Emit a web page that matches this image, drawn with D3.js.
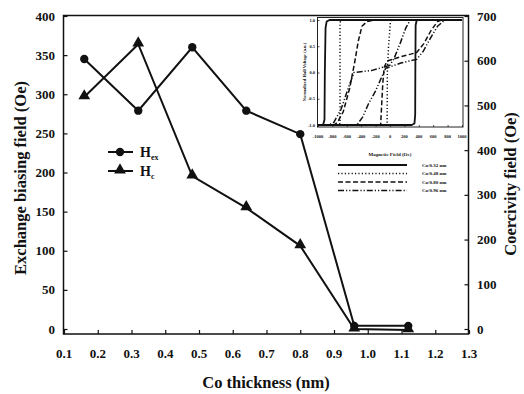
<!DOCTYPE html>
<html>
<head>
<meta charset="utf-8">
<script src="https://cdn.jsdelivr.net/npm/d3@7"></script>
<style>
  body { margin: 0; background: #fff; }
  svg { display: block; }
</style>
</head>
<body>
<svg id="chart" width="524" height="394" font-family="'Liberation Serif', 'Times New Roman', Times, serif" font-weight="bold"></svg>
<script>
// main series
const thickness = [0.16, 0.32, 0.48, 0.64, 0.80, 0.96, 1.12]
const hex = [345, 279, 360, 279, 249, 4, 4]
const hc = [519, 637, 342, 271, 186, 0, -2]
const xTicks = [0.1, 0.2, 0.3, 0.4, 0.5, 0.6, 0.7, 0.8, 0.9, 1.0, 1.1, 1.2, 1.3]
const leftTicks = [0, 50, 100, 150, 200, 250, 300, 350, 400]
const rightTicks = [0, 100, 200, 300, 400, 500, 600, 700]

// inset: hysteresis loops, [field (Oe), normalized voltage]
const insetLabels = ["Co/0.32 nm", "Co/0.48 nm", "Co/0.80 nm", "Co/0.96 nm"]
const loop032 = [
  [[-1000, -1], [300, -1], [340, -0.97], [350, -0.8], [352, 0], [356, 0.9], [370, 0.99], [400, 1], [1000, 1]],
  [[1000, 1], [-840, 1], [-880, 0.97], [-895, 0.85], [-905, 0], [-910, -0.9], [-930, -1], [-1000, -1]]
]
const loop048 = [
  [[-1000, -1], [-40, -1], [-37, 0], [-20, 0.5], [5, 0.95], [30, 1], [1000, 1]],
  [[1000, 1], [-680, 1], [-694, 0.95], [-694, -0.95], [-700, -1], [-1000, -1]]
]
const loop080 = [
  [[-1000, -1], [-130, -1], [-115, -0.6], [-100, -0.2], [-80, 0.1], [-40, 0.22], [150, 0.3], [370, 0.38], [470, 0.55], [570, 0.8], [660, 0.97], [720, 1], [1000, 1]],
  [[1000, 1], [-220, 1], [-320, 0.97], [-390, 0.88], [-440, 0.6], [-490, 0.2], [-560, -0.3], [-650, -0.75], [-730, -0.95], [-780, -1], [-1000, -1]]
]
const loop096 = [
  [[-1000, -1], [-460, -1], [-380, -0.85], [-300, -0.6], [-200, -0.35], [-120, -0.1], [-60, 0.08], [150, 0.18], [370, 0.25], [460, 0.4], [560, 0.65], [660, 0.88], [760, 1], [1000, 1]],
  [[1000, 1], [280, 1], [220, 0.85], [140, 0.55], [60, 0.28], [0, 0.14], [-250, 0.04], [-500, 0], [-580, -0.3], [-680, -0.7], [-780, -0.95], [-850, -1], [-1000, -1]]
]
const insetXTicks = [-1000, -800, -600, -400, -200, 0, 200, 400, 600, 800, 1000]
const insetYTicks = [-1.0, -0.5, 0.0, 0.5, 1.0]

const svg = d3.select("#chart")

const x = d3.scaleLinear().domain([0.1, 1.3]).range([64, 469])
const yL = d3.scaleLinear().domain([0, 400]).range([329, 16])
const yR = d3.scaleLinear().domain([0, 700]).range([329, 16])

// frame
svg.append("rect")
  .attr("x", 63.5).attr("y", 15.5)
  .attr("width", 405).attr("height", 318.5)
  .attr("fill", "none").attr("stroke", "#111").attr("stroke-width", 1.5)

// axes, ticks pointing inward; labels drawn separately
const fmt1 = d3.format(".1f")
const bottom = svg.append("g").attr("transform", "translate(0,334)")
  .call(d3.axisTop(x).tickValues(xTicks).tickSize(4).tickFormat(""))
bottom.select(".domain").remove()
const left = svg.append("g").attr("transform", "translate(63.5,0)")
  .call(d3.axisRight(yL).tickValues(leftTicks).tickSize(4).tickFormat(""))
left.select(".domain").remove()
const right = svg.append("g").attr("transform", "translate(468.5,0)")
  .call(d3.axisLeft(yR).tickValues(rightTicks).tickSize(4).tickFormat(""))
right.select(".domain").remove()
svg.selectAll(".tick line").attr("stroke", "#111").attr("stroke-width", 1.2)
svg.selectAll(".tick text").remove()

const labels = svg.append("g").attr("fill", "#111").attr("font-size", 13)
labels.append("g").selectAll("text").data(xTicks).join("text")
  .attr("x", d => x(d)).attr("y", 358)
  .attr("text-anchor", "middle")
  .text(d => fmt1(d))
labels.append("g").selectAll("text").data(leftTicks).join("text")
  .attr("x", 55).attr("y", d => yL(d) + 4.5)
  .attr("text-anchor", "end")
  .text(d => d)
labels.append("g").selectAll("text").data(rightTicks).join("text")
  .attr("x", 477).attr("y", d => yR(d) + 4.5)
  .attr("text-anchor", "start")
  .text(d => d)

// axis titles
const titles = svg.append("g").attr("fill", "#111").attr("font-size", 16.5)
titles.append("text").attr("x", 266).attr("y", 388)
  .attr("text-anchor", "middle")
  .text("Co thickness (nm)")
titles.append("text").attr("transform", "translate(26,178) rotate(-90)")
  .attr("text-anchor", "middle")
  .text("Exchange biasing field (Oe)")
titles.append("text").attr("transform", "translate(516,184) rotate(-90)")
  .attr("text-anchor", "middle")
  .text("Coercivity field (Oe)")

// series lines
const hexPts = thickness.map((t, i) => [x(t), yL(hex[i])])
const hcPts = thickness.map((t, i) => [x(t), yR(hc[i])])
const line = d3.line()
svg.append("path").attr("d", line(hexPts))
  .attr("fill", "none").attr("stroke", "#111").attr("stroke-width", 2)
svg.append("path").attr("d", line(hcPts))
  .attr("fill", "none").attr("stroke", "#111").attr("stroke-width", 2)

const circle = d3.symbol().type(d3.symbolCircle).size(55)
const tri = d3.symbol().type(d3.symbolTriangle).size(60)
svg.append("g").selectAll("path").data(hexPts).join("path")
  .attr("d", circle).attr("transform", d => `translate(${d[0]},${d[1]})`).attr("fill", "#111")
svg.append("g").selectAll("path").data(hcPts).join("path")
  .attr("d", tri).attr("transform", d => `translate(${d[0]},${d[1] - 1})`).attr("fill", "#111")

// legend
const lg = svg.append("g").attr("fill", "#111")
lg.append("line").attr("x1", 108).attr("x2", 133).attr("y1", 152).attr("y2", 152)
  .attr("stroke", "#111").attr("stroke-width", 2)
lg.append("path").attr("d", circle).attr("transform", "translate(120,152)")
lg.append("line").attr("x1", 108).attr("x2", 133).attr("y1", 171).attr("y2", 171)
  .attr("stroke", "#111").attr("stroke-width", 2)
lg.append("path").attr("d", tri).attr("transform", "translate(120,170)")
const t1 = lg.append("text").attr("x", 140).attr("y", 157).attr("font-size", 14)
t1.append("tspan").text("H")
t1.append("tspan").attr("font-size", 8).attr("dy", 3).text("ex")
const t2 = lg.append("text").attr("x", 140).attr("y", 176).attr("font-size", 14)
t2.append("tspan").text("H")
t2.append("tspan").attr("font-size", 8).attr("dy", 3).text("c")

// inset
const ix = d3.scaleLinear().domain([-1000, 1000]).range([318, 462])
const iy = d3.scaleLinear().domain([-1, 1]).range([125, 20])
const inset = svg.append("g")
inset.append("rect").attr("x", 317.5).attr("y", 17.5).attr("width", 145.5).attr("height", 109.5)
  .attr("fill", "#fff").attr("stroke", "#222").attr("stroke-width", 1)

const ib = inset.append("g").attr("transform", "translate(0,127)")
  .call(d3.axisTop(ix).tickValues(insetXTicks).tickSize(2).tickFormat(""))
ib.select(".domain").remove()
const il = inset.append("g").attr("transform", "translate(317.5,0)")
  .call(d3.axisRight(iy).tickValues(insetYTicks).tickSize(2).tickFormat(""))
il.select(".domain").remove()
inset.selectAll(".tick line").attr("stroke", "#222").attr("stroke-width", 0.8)
inset.selectAll(".tick text").remove()

const ilab = inset.append("g").attr("fill", "#111").attr("font-size", 4.5)
ilab.append("g").selectAll("text").data(insetXTicks).join("text")
  .attr("x", d => ix(d)).attr("y", 138)
  .attr("text-anchor", "middle")
  .text(d => d)
ilab.append("g").selectAll("text").data(insetYTicks).join("text")
  .attr("x", 315).attr("y", d => iy(d) + 1.5)
  .attr("text-anchor", "end")
  .text(d => d.toFixed(1))
ilab.append("text").attr("x", 390).attr("y", 156)
  .attr("text-anchor", "middle").attr("font-size", 5)
  .text("Magnetic Field (Oe)")
ilab.append("text").attr("transform", "translate(306,72) rotate(-90)")
  .attr("text-anchor", "middle")
  .text("Normalized Hall Voltage (a.u.)")

const loops = [loop032, loop048, loop080, loop096]
const dashes = [null, "1.2,2.2", "5,2.5", "6,2,1.2,2,1.2,2"]
const iline = d3.line().x(d => ix(d[0])).y(d => iy(d[1]))
loops.forEach((lp, k) => {
  lp.forEach(branch => {
    inset.append("path").attr("d", iline(branch))
      .attr("fill", "none").attr("stroke", "#111")
      .attr("stroke-width", k === 0 ? 1.8 : 1.5)
      .attr("stroke-dasharray", dashes[k])
      .attr("stroke-linejoin", "round")
  })
})

// inset legend
const legY = [165, 173.5, 182, 190.5]
insetLabels.forEach((lab, k) => {
  inset.append("line").attr("x1", 338).attr("x2", 407).attr("y1", legY[k]).attr("y2", legY[k])
    .attr("stroke", "#111").attr("stroke-width", k === 0 ? 1.8 : 1.5)
    .attr("stroke-dasharray", dashes[k])
  inset.append("text").attr("x", 422).attr("y", legY[k] + 1.8)
    .attr("fill", "#111").attr("font-size", 5).text(lab)
})
</script>
</body>
</html>
